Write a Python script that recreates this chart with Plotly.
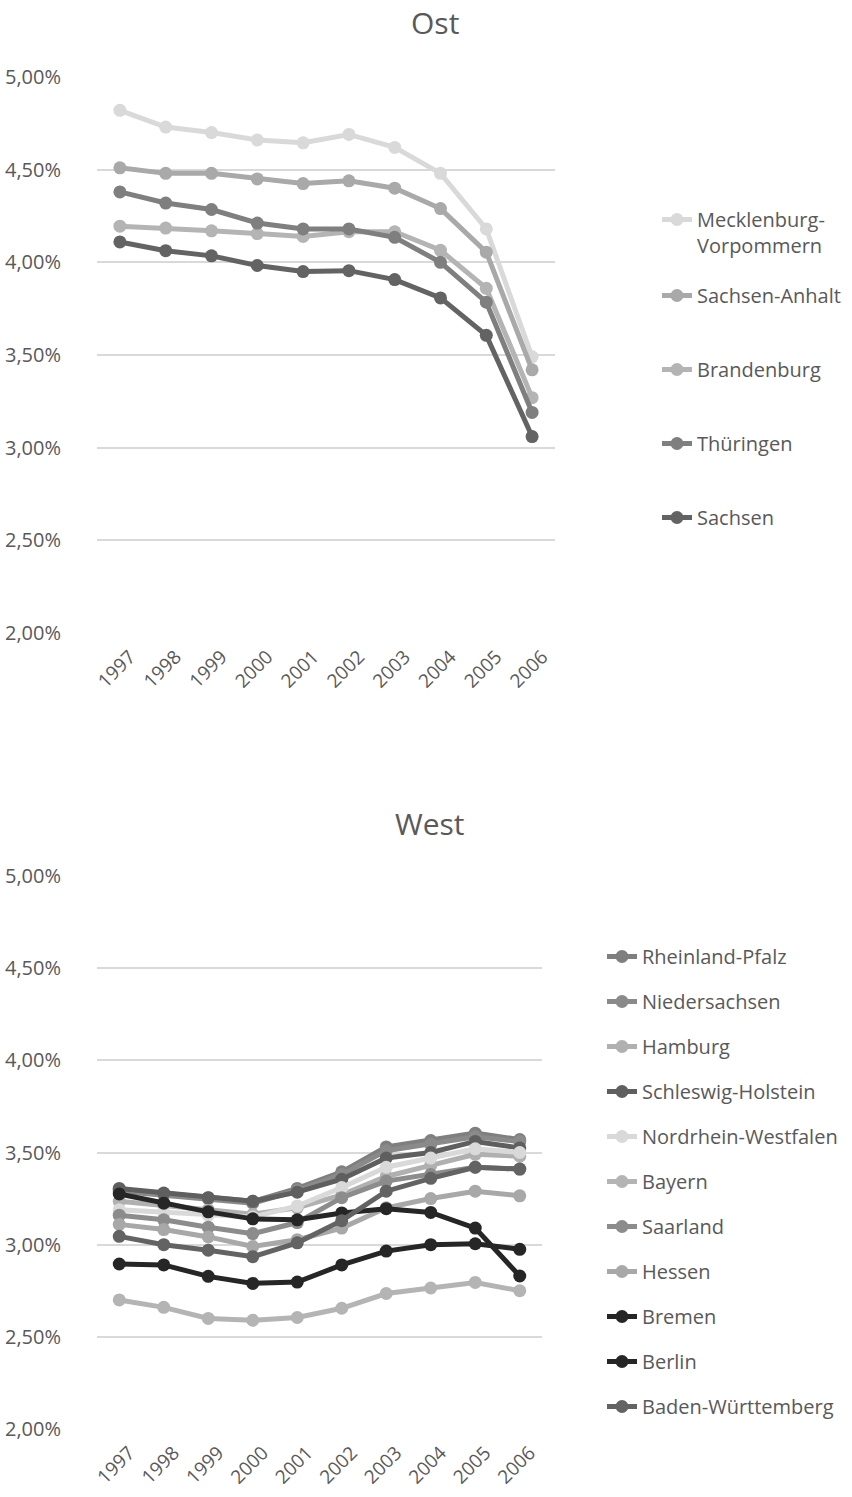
import plotly.graph_objects as go

# Years on the category axis
years = ["1997", "1998", "1999", "2000", "2001", "2002", "2003", "2004", "2005", "2006"]

# East German states (share, as fraction)
mecklenburg_vorpommern = [0.0482, 0.0473, 0.0470, 0.0466, 0.04645, 0.0469, 0.0462, 0.0448, 0.0418, 0.0349]
sachsen_anhalt = [0.0451, 0.0448, 0.0448, 0.0445, 0.04425, 0.0444, 0.0440, 0.0429, 0.04055, 0.0342]
brandenburg = [0.04195, 0.04185, 0.0417, 0.04155, 0.0414, 0.04165, 0.04165, 0.04065, 0.0386, 0.0327]
thueringen = [0.0438, 0.0432, 0.04285, 0.04212, 0.0418, 0.0418, 0.04135, 0.0400, 0.03785, 0.0319]
sachsen = [0.0411, 0.04063, 0.04035, 0.03983, 0.0395, 0.03955, 0.03907, 0.03808, 0.03606, 0.0306]

# West German states (share, as fraction)
rheinland_pfalz = [0.0330, 0.03278, 0.03255, 0.03235, 0.03305, 0.03395, 0.0353, 0.03565, 0.03605, 0.0357]
niedersachsen = [0.0329, 0.0327, 0.0325, 0.03225, 0.03295, 0.0338, 0.0351, 0.03545, 0.03585, 0.0356]
hamburg = [0.03235, 0.03215, 0.0319, 0.03165, 0.0320, 0.0327, 0.0337, 0.0343, 0.0349, 0.0348]
schleswig_holstein = [0.03305, 0.0328, 0.03255, 0.03235, 0.03285, 0.03355, 0.0347, 0.0350, 0.0356, 0.03525]
nordrhein_westfalen = [0.0319, 0.03175, 0.0316, 0.0315, 0.0321, 0.0331, 0.0342, 0.0347, 0.0352, 0.0350]
bayern = [0.0270, 0.0266, 0.0260, 0.0259, 0.02605, 0.02655, 0.02735, 0.02765, 0.02795, 0.0275]
saarland = [0.0316, 0.03135, 0.03095, 0.0306, 0.0312, 0.03255, 0.03345, 0.0338, 0.0342, 0.0341]
hessen = [0.0311, 0.03082, 0.03042, 0.0299, 0.03027, 0.0309, 0.0320, 0.0325, 0.0329, 0.03265]
bremen = [0.03275, 0.03225, 0.03178, 0.0314, 0.03135, 0.03172, 0.03195, 0.03175, 0.0309, 0.0283]
berlin = [0.02895, 0.0289, 0.02828, 0.0279, 0.02797, 0.0289, 0.02965, 0.0300, 0.03005, 0.02975]
baden_wuerttemberg = [0.03045, 0.0300, 0.0297, 0.02935, 0.0301, 0.0313, 0.0329, 0.0336, 0.0342, 0.0341]

ost_series = [
    ("Mecklenburg-<br>Vorpommern", mecklenburg_vorpommern, "#d9d9d9", "legend"),
    ("Sachsen-Anhalt", sachsen_anhalt, "#a9a9a9", "legend2"),
    ("Brandenburg", brandenburg, "#b4b4b4", "legend2"),
    ("Thüringen", thueringen, "#7f7f7f", "legend2"),
    ("Sachsen", sachsen, "#636363", "legend2"),
]

west_series = [
    ("Rheinland-Pfalz", rheinland_pfalz, "#7f7f7f"),
    ("Niedersachsen", niedersachsen, "#8a8a8a"),
    ("Hamburg", hamburg, "#b0b0b0"),
    ("Schleswig-Holstein", schleswig_holstein, "#5f5f5f"),
    ("Nordrhein-Westfalen", nordrhein_westfalen, "#d9d9d9"),
    ("Bayern", bayern, "#b4b4b4"),
    ("Saarland", saarland, "#8c8c8c"),
    ("Hessen", hessen, "#a8a8a8"),
    ("Bremen", bremen, "#262626"),
    ("Berlin", berlin, "#262626"),
    ("Baden-Württemberg", baden_wuerttemberg, "#636363"),
]

W, H = 852, 1497
FONT = "Open Sans"
TXT = "#595959"
GRID = "#d9d9d9"

fig = go.Figure()

for name, vals, color, leg in ost_series:
    fig.add_trace(go.Scatter(
        x=years, y=vals, name=name, mode="lines+markers",
        line=dict(color=color, width=5),
        marker=dict(color=color, size=13),
        xaxis="x", yaxis="y", legend=leg, legendgroup=name,
    ))

for name, vals, color in west_series:
    fig.add_trace(go.Scatter(
        x=years, y=vals, name=name, mode="lines+markers",
        line=dict(color=color, width=5),
        marker=dict(color=color, size=13),
        xaxis="x2", yaxis="y2", legend="legend3", legendgroup=name,
    ))


def py(px):
    return 1 - px / H


axis_common = dict(
    showline=False, zeroline=False, showgrid=True, automargin=False,
    gridcolor=GRID, gridwidth=1.5,
    tickfont=dict(family=FONT, size=20, color=TXT),
)

xcommon = dict(
    type="category", range=[-0.5, 9.5], showgrid=False, showline=False,
    zeroline=False, tickangle=-45, ticks="", automargin=False,
    ticklabelshift=10, ticklabelstandoff=8,
    tickfont=dict(family=FONT, size=19, color=TXT),
)

legend_common = dict(
    font=dict(family=FONT, size=20, color=TXT),
    bgcolor="rgba(0,0,0,0)", borderwidth=0,
    xanchor="left", yanchor="top", valign="top",
    itemclick=False, itemdoubleclick=False,
)

fig.update_layout(
    width=W, height=H,
    margin=dict(l=0, r=0, t=0, b=0, autoexpand=False),
    paper_bgcolor="white", plot_bgcolor="white",
    separators=",.",
    showlegend=True,
    xaxis=dict(domain=[97 / W, 555 / W], anchor="y", **xcommon),
    yaxis=dict(domain=[py(633), py(77)], anchor="x", range=[0.02, 0.05],
               dtick=0.005, tickformat=".2%", ticklabelstandoff=35, **axis_common),
    xaxis2=dict(domain=[97 / W, 542 / W], anchor="y2", **xcommon),
    yaxis2=dict(domain=[py(1429), py(876)], anchor="x2", range=[0.02, 0.05],
                dtick=0.005, tickformat=".2%", ticklabelstandoff=35, **axis_common),
    legend=dict(x=657 / W, y=py(200), tracegroupgap=0, **legend_common),
    legend2=dict(x=657 / W, y=py(276), tracegroupgap=45, **legend_common),
    legend3=dict(x=602 / W, y=py(937), tracegroupgap=16, **legend_common),
    annotations=[
        dict(text="Ost", x=435 / W, y=py(23), xref="paper", yref="paper",
             showarrow=False, xanchor="center", yanchor="middle",
             font=dict(family=FONT, size=30, color=TXT)),
        dict(text="West", x=430 / W, y=py(823), xref="paper", yref="paper",
             showarrow=False, xanchor="center", yanchor="middle",
             font=dict(family=FONT, size=30, color=TXT)),
    ],
)

fig.write_html("out.html")
